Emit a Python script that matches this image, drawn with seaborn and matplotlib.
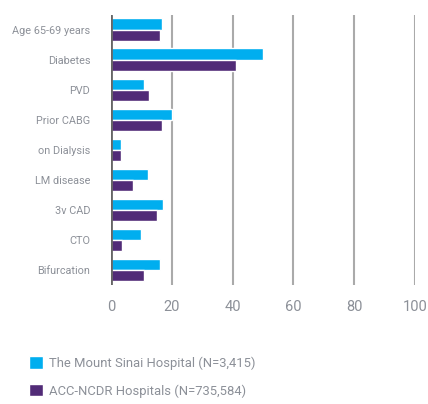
import matplotlib
matplotlib.use("Agg")
import matplotlib.pyplot as plt
import seaborn as sns
import pandas as pd
from matplotlib.font_manager import fontManager

categories = ["Age 65-69 years", "Diabetes", "PVD", "Prior CABG", "on Dialysis",
              "LM disease", "3v CAD", "CTO", "Bifurcation"]
mount_sinai = [16.8, 50.0, 10.9, 20.0, 3.2, 12.2, 17.1, 9.9, 16.1]
acc_ncdr = [16.1, 41.0, 12.5, 16.8, 3.2, 7.2, 15.1, 3.6, 10.9]
series_names = ["The Mount Sinai Hospital (N=3,415)", "ACC-NCDR Hospitals (N=735,584)"]
x_ticks = [0, 20, 40, 60, 80, 100]

df = pd.DataFrame({
    "category": categories * 2,
    "value": mount_sinai + acc_ncdr,
    "series": [series_names[0]] * len(categories) + [series_names[1]] * len(categories),
})

sns.set_theme(style="white")
names = {f.name for f in fontManager.ttflist}
fam = "Liberation Sans Narrow" if "Liberation Sans Narrow" in names else "Roboto"
plt.rcParams["font.family"] = [fam, "DejaVu Sans"]

txt = "#8c9098"
colors = ["#00AEEF", "#512B77"]

fig = plt.figure(figsize=(4.28, 4.04), dpi=100)
ax = fig.add_axes([111 / 428, 1 - 285 / 404, (415 - 111) / 428, (285 - 14.7) / 404])

sns.barplot(data=df, y="category", x="value", hue="series", orient="h",
            palette=colors, width=0.75, ax=ax, saturation=1, legend=True, zorder=3)

ax.set_xlim(0, 100)
ax.set_ylim(8.5, -0.5)
ax.set_xticks(x_ticks)
ax.set_xticklabels([str(t) for t in x_ticks])
ax.set_xlabel("")
ax.set_ylabel("")
for s in ax.spines.values():
    s.set_visible(False)
for t in x_ticks[1:]:
    ax.axvline(t, color="#aaaaaa", lw=1.5, zorder=1)
ax.axvline(0, color="#666666", lw=2, zorder=4)
ax.tick_params(axis="x", length=0, pad=11, labelsize=10.5, labelcolor=txt)
ax.tick_params(axis="y", length=0, pad=15, labelsize=7.8, labelcolor=txt)

handles, labels = ax.get_legend_handles_labels()
ax.get_legend().remove()
fig.legend(handles, labels, loc="lower left", bbox_to_anchor=(24 / 428, 1 / 404),
           frameon=False, fontsize=9.4, labelcolor=txt, handlelength=1.05,
           handleheight=1.05, handletextpad=0.45, labelspacing=1.1,
           borderaxespad=0.0)

fig.savefig("out.png", dpi=100)
